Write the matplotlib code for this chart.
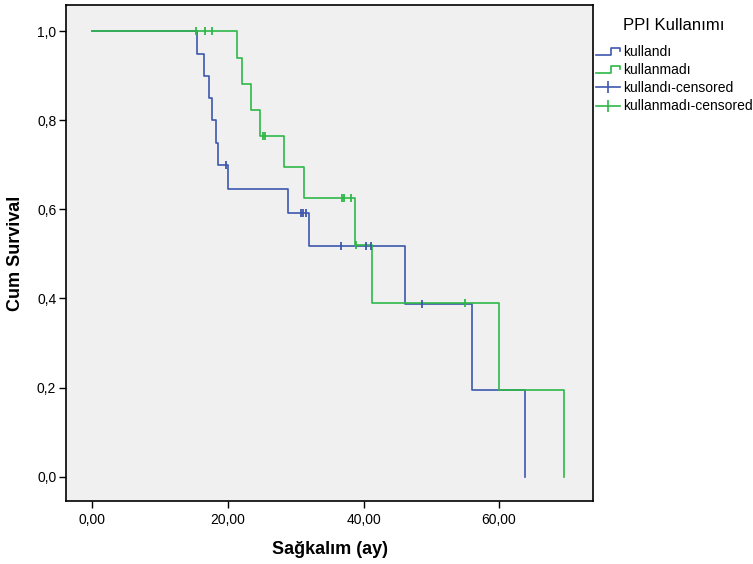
import matplotlib
matplotlib.use("Agg")
import matplotlib.pyplot as plt
from matplotlib.lines import Line2D
from matplotlib.legend_handler import HandlerBase

plt.rcParams['font.family'] = ['Liberation Sans', 'DejaVu Sans']

# Kaplan-Meier steps (time in months, cumulative survival)
used_times = [15.45, 16.45, 17.2, 17.6, 18.3, 18.6, 20.05, 28.9, 32.0, 46.15, 56.05, 63.8]
used_surv = [0.95, 0.90, 0.85, 0.80, 0.75, 0.70, 0.646, 0.592, 0.518, 0.388, 0.194, 0.0]
used_cens_t = [19.65, 30.8, 31.1, 31.5, 36.7, 40.3, 41.1, 48.7]
used_cens_s = [0.70, 0.592, 0.592, 0.592, 0.518, 0.518, 0.518, 0.388]

notused_times = [21.4, 22.1, 23.45, 24.8, 28.3, 31.2, 38.7, 41.3, 60.05, 69.55]
notused_surv = [0.941, 0.882, 0.824, 0.765, 0.695, 0.626, 0.521, 0.391, 0.195, 0.0]
notused_cens_t = [15.3, 16.6, 17.7, 25.2, 25.45, 36.8, 37.1, 38.1, 38.9, 54.9]
notused_cens_s = [1.0, 1.0, 1.0, 0.765, 0.765, 0.626, 0.626, 0.626, 0.521, 0.391]

group_labels = ['kullandı', 'kullanmadı']
legend_title = 'PPI Kullanımı'
xticks = [0, 20, 40, 60]
xtick_labels = ['0,00', '20,00', '40,00', '60,00']
yticks = [0.0, 0.2, 0.4, 0.6, 0.8, 1.0]
ytick_labels = ['0,0', '0,2', '0,4', '0,6', '0,8', '1,0']

BLUE = '#3E58AC'
GREEN = '#2EB848'


class StepHandler(HandlerBase):
    """ legend icon that looks like a small survival step """

    def create_artists(self, legend, orig_handle, xdescent, ydescent, width, height, fontsize, trans):
        x0 = -xdescent
        y0 = -ydescent
        xs = [x0, x0 + 0.62 * width, x0 + 0.62 * width, x0 + width, x0 + width]
        ys = [y0 + 0.15 * height, y0 + 0.15 * height, y0 + 0.85 * height, y0 + 0.85 * height, y0 + 0.5 * height]
        line = Line2D(xs, ys, color=orig_handle.get_color(), lw=orig_handle.get_linewidth())
        line.set_transform(trans)
        return [line]


fig = plt.figure(figsize=(7.53, 5.64), dpi=100)
ax = fig.add_axes([66 / 753, 1 - 501 / 564, 527 / 753, 495.7 / 564])
ax.set_facecolor('#F0F0F0')

ax.step([0] + used_times, [1.0] + used_surv, where='post', color=BLUE, lw=1.2)
ax.step([0] + notused_times, [1.0] + notused_surv, where='post', color=GREEN, lw=1.2)
ax.plot(used_cens_t, used_cens_s, linestyle='none', marker='|', ms=6, mew=1.3, color=BLUE)
ax.plot(notused_cens_t, notused_cens_s, linestyle='none', marker='|', ms=6, mew=1.3, color=GREEN)

ax.set_xlim(-3.88, 73.85)
ax.set_ylim(-0.0548, 1.0585)
ax.set_xticks(xticks)
ax.set_xticklabels(xtick_labels)
ax.set_yticks(yticks)
ax.set_yticklabels(ytick_labels)
ax.tick_params(direction='out', length=5, width=1, labelsize=10, colors='black')
ax.tick_params(axis='x', pad=4)
ax.tick_params(axis='y', pad=2)
for s in ax.spines.values():
    s.set_linewidth(1.2)
    s.set_color('black')

ax.set_xlabel('Sağkalım (ay)', fontsize=13, fontweight='bold', labelpad=10)
ax.set_ylabel('Cum Survival', fontsize=13, fontweight='bold', labelpad=9.5)

h_used = Line2D([], [], color=BLUE, lw=1.2)
h_notused = Line2D([], [], color=GREEN, lw=1.2)
h_used_c = Line2D([], [], color=BLUE, lw=1.2, marker='|', ms=8, mew=1.2)
h_notused_c = Line2D([], [], color=GREEN, lw=1.2, marker='|', ms=8, mew=1.2)

# title drawn separately, SPSS leaves a bigger gap below it than legend does
fig.text(674 / 753, 1 - 25 / 564, legend_title, fontsize=12, ha='center', va='center')
fig.legend([h_used, h_notused, h_used_c, h_notused_c],
           [group_labels[0], group_labels[1], group_labels[0] + '-censored', group_labels[1] + '-censored'],
           handler_map={h_used: StepHandler(), h_notused: StepHandler()},
           loc='upper left', bbox_to_anchor=(596 / 753, 1 - 45 / 564), frameon=False,
           fontsize=10, handlelength=1.75, handletextpad=0.22, labelspacing=0.3,
           borderpad=0, borderaxespad=0)

fig.savefig('out.png', dpi=100)
